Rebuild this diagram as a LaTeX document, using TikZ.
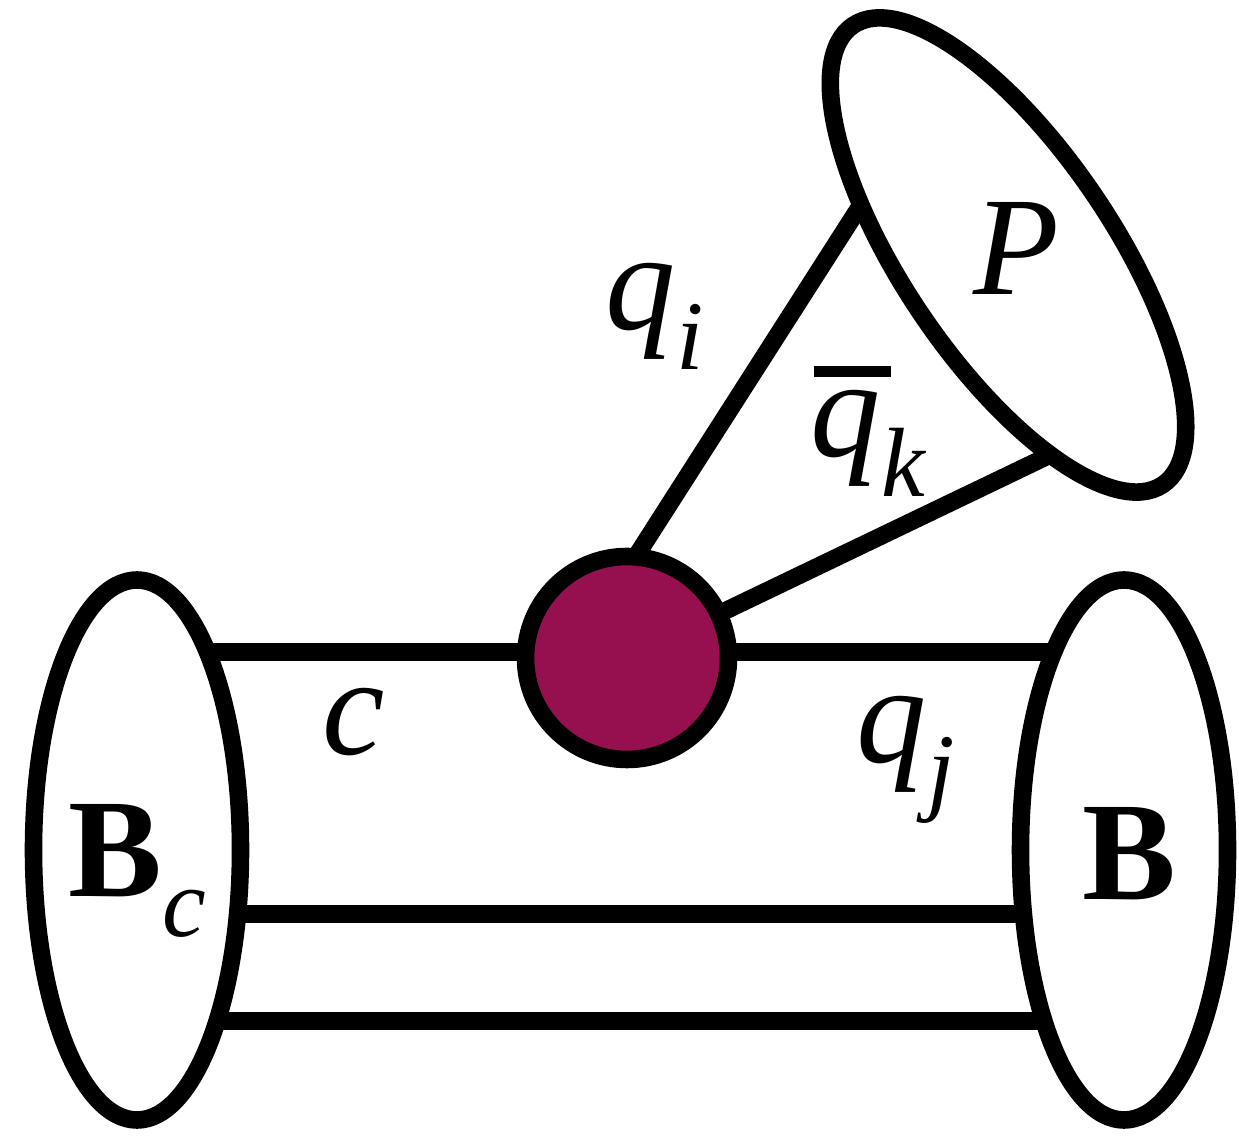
\documentclass[tikz,border=0pt]{standalone}
\usepackage{fontspec}
\setmainfont{Liberation Serif}
\usetikzlibrary{shapes.geometric,backgrounds}
\definecolor{blobred}{HTML}{961050}
\newcommand{\lowsub}[1]{\raisebox{-0.28em}{\fontsize{28}{29}\selectfont\itshape #1}}
\newcommand{\barq}{\rlap{\hspace{0.02em}\raisebox{0.57em}{\rule{0.55em}{0.075em}}}\textit{q}}
\begin{document}
\begin{tikzpicture}[every node/.style={font=\fontsize{40}{42}\selectfont,inner sep=0pt},hadron/.style={ellipse,draw,line width=5pt,fill=white,inner sep=0pt},quark/.style={line width=5pt},vertex/.style={circle,draw,line width=5pt,fill=blobred,minimum size=2.03cm},lbl/.style={anchor=base west}]
\useasboundingbox (0,0) rectangle (12.39,11.38);
\node[hadron,minimum width=2.07cm,minimum height=5.40cm] (Bc) at (1.37,2.88) {};
\node[hadron,minimum width=2.07cm,minimum height=5.40cm] (B) at (11.24,2.88) {};
\node[hadron,rotate=-56,minimum width=5.54cm,minimum height=2.10cm] (P) at (10.08,8.83) {};
\node[vertex] (vert) at (6.27,4.80) {};
\coordinate (qi start) at (6.10,5.41);\coordinate (qi end) at (8.80,9.63);\coordinate (qk end) at (10.75,6.95);
\begin{pgfonlayer}{background}
\draw[quark] ([yshift=1.98cm]Bc.center) -- ([yshift=1.98cm]B.center);
\draw[quark] ([yshift=-0.64cm]Bc.center) -- ([yshift=-0.64cm]B.center);
\draw[quark] ([yshift=-1.71cm]Bc.center) -- ([yshift=-1.71cm]B.center);
\draw[quark] (qi start) -- (qi end);\draw[quark] (vert.center) -- (qk end);
\end{pgfonlayer}
\node[lbl] (qi) at (6.05,8.08) {\textit{q}\lowsub{i}};
\node[lbl] (qk) at (8.10,6.81) {\barq\lowsub{k}};
\node[lbl] (c) at (3.22,3.83) {\textit{c}};
\node[lbl] (qj) at (8.56,3.75) {\textit{q}\lowsub{j}};
\node[lbl] (Bc label) at (0.68,2.41) {\textbf{B}\lowsub{c}};
\node[lbl] (B label) at (10.82,2.38) {\textbf{B}};
\node[lbl] (P label) at (9.73,8.43) {\textit{P}};
\end{tikzpicture}
\end{document}
